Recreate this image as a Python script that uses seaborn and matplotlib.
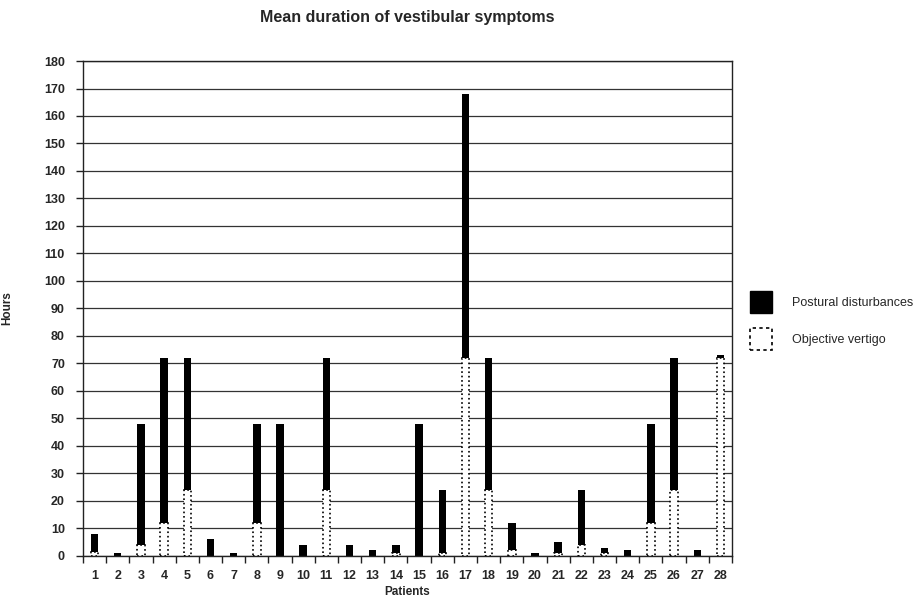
import matplotlib
matplotlib.use("Agg")
import matplotlib.pyplot as plt
import seaborn as sns
import pandas as pd
import numpy as np
from matplotlib.patches import Patch

patients = [str(i) for i in range(1, 29)]
objective_vertigo = [1.5, 0, 4, 12, 24, 0, 0, 12, 0, 0, 24, 0, 0, 1, 0, 1, 72, 24, 2, 0, 1, 4, 1, 0, 12, 24, 0, 72]
postural_disturbances = [6.5, 1, 44, 60, 48, 6, 1, 36, 48, 4, 48, 4, 2, 3, 48, 23, 96, 48, 10, 1, 4, 20, 2, 2, 36, 48, 2, 1]

total = [v + p for v, p in zip(objective_vertigo, postural_disturbances)]
df = pd.DataFrame({"Patients": patients, "total": total, "vertigo": objective_vertigo})

sns.set_style("white")
plt.rcParams['font.family'] = ['Liberation Sans', 'DejaVu Sans']

fig = plt.figure(figsize=(9.15, 6.01), dpi=100)
ax = fig.add_axes([0.0907, 0.0749, 0.7093, 0.8236])

sns.barplot(data=df, x="Patients", y="total", color="black", width=0.32,
            saturation=1, ax=ax, edgecolor="black", linewidth=0)
sns.barplot(data=df, x="Patients", y="vertigo", color="white", width=0.32,
            saturation=1, ax=ax, edgecolor="black", linewidth=1.2, linestyle=":")

ax.set_ylim(0, 180)
ax.set_xlim(-0.5, 27.5)
ax.set_yticks(np.arange(0, 181, 10))
ax.yaxis.grid(True, color="#333333", linewidth=0.9)
ax.set_axisbelow(True)
for s in ["left", "bottom", "right", "top"]:
    ax.spines[s].set_visible(True)
    ax.spines[s].set_color("#222222")
    ax.spines[s].set_linewidth(1)

ax.tick_params(axis="y", which="major", length=5, width=1, color="#222222",
               left=True, labelsize=9, pad=8)
ax.tick_params(axis="x", which="major", length=0, labelsize=9, pad=10)
ax.set_xticks(np.arange(-0.5, 28, 1), minor=True)
ax.tick_params(axis="x", which="minor", length=5, width=1, color="#222222", bottom=True)
for lab in ax.get_yticklabels() + ax.get_xticklabels():
    lab.set_fontweight("bold")

ax.set_xlabel("Patients", fontsize=8.5, fontweight="bold", labelpad=3)
ax.set_ylabel("Hours", fontsize=8.5, fontweight="bold", labelpad=22)
ax.set_title("Mean duration of vestibular symptoms", fontsize=11.5, fontweight="bold", pad=28)

handles = [Patch(facecolor="black", edgecolor="black", label="Postural disturbances"),
           Patch(facecolor="white", edgecolor="black", linestyle=(0, (2, 2)), linewidth=1.2, label="Objective vertigo")]
leg = fig.legend(handles=handles, loc="upper left", bbox_to_anchor=(0.8197, 0.5158),
                 frameon=False, fontsize=9, handlelength=1.76, handleheight=2.3,
                 labelspacing=1.2, handletextpad=1.6, borderpad=0, borderaxespad=0)

fig.savefig("out.png", dpi=100)
